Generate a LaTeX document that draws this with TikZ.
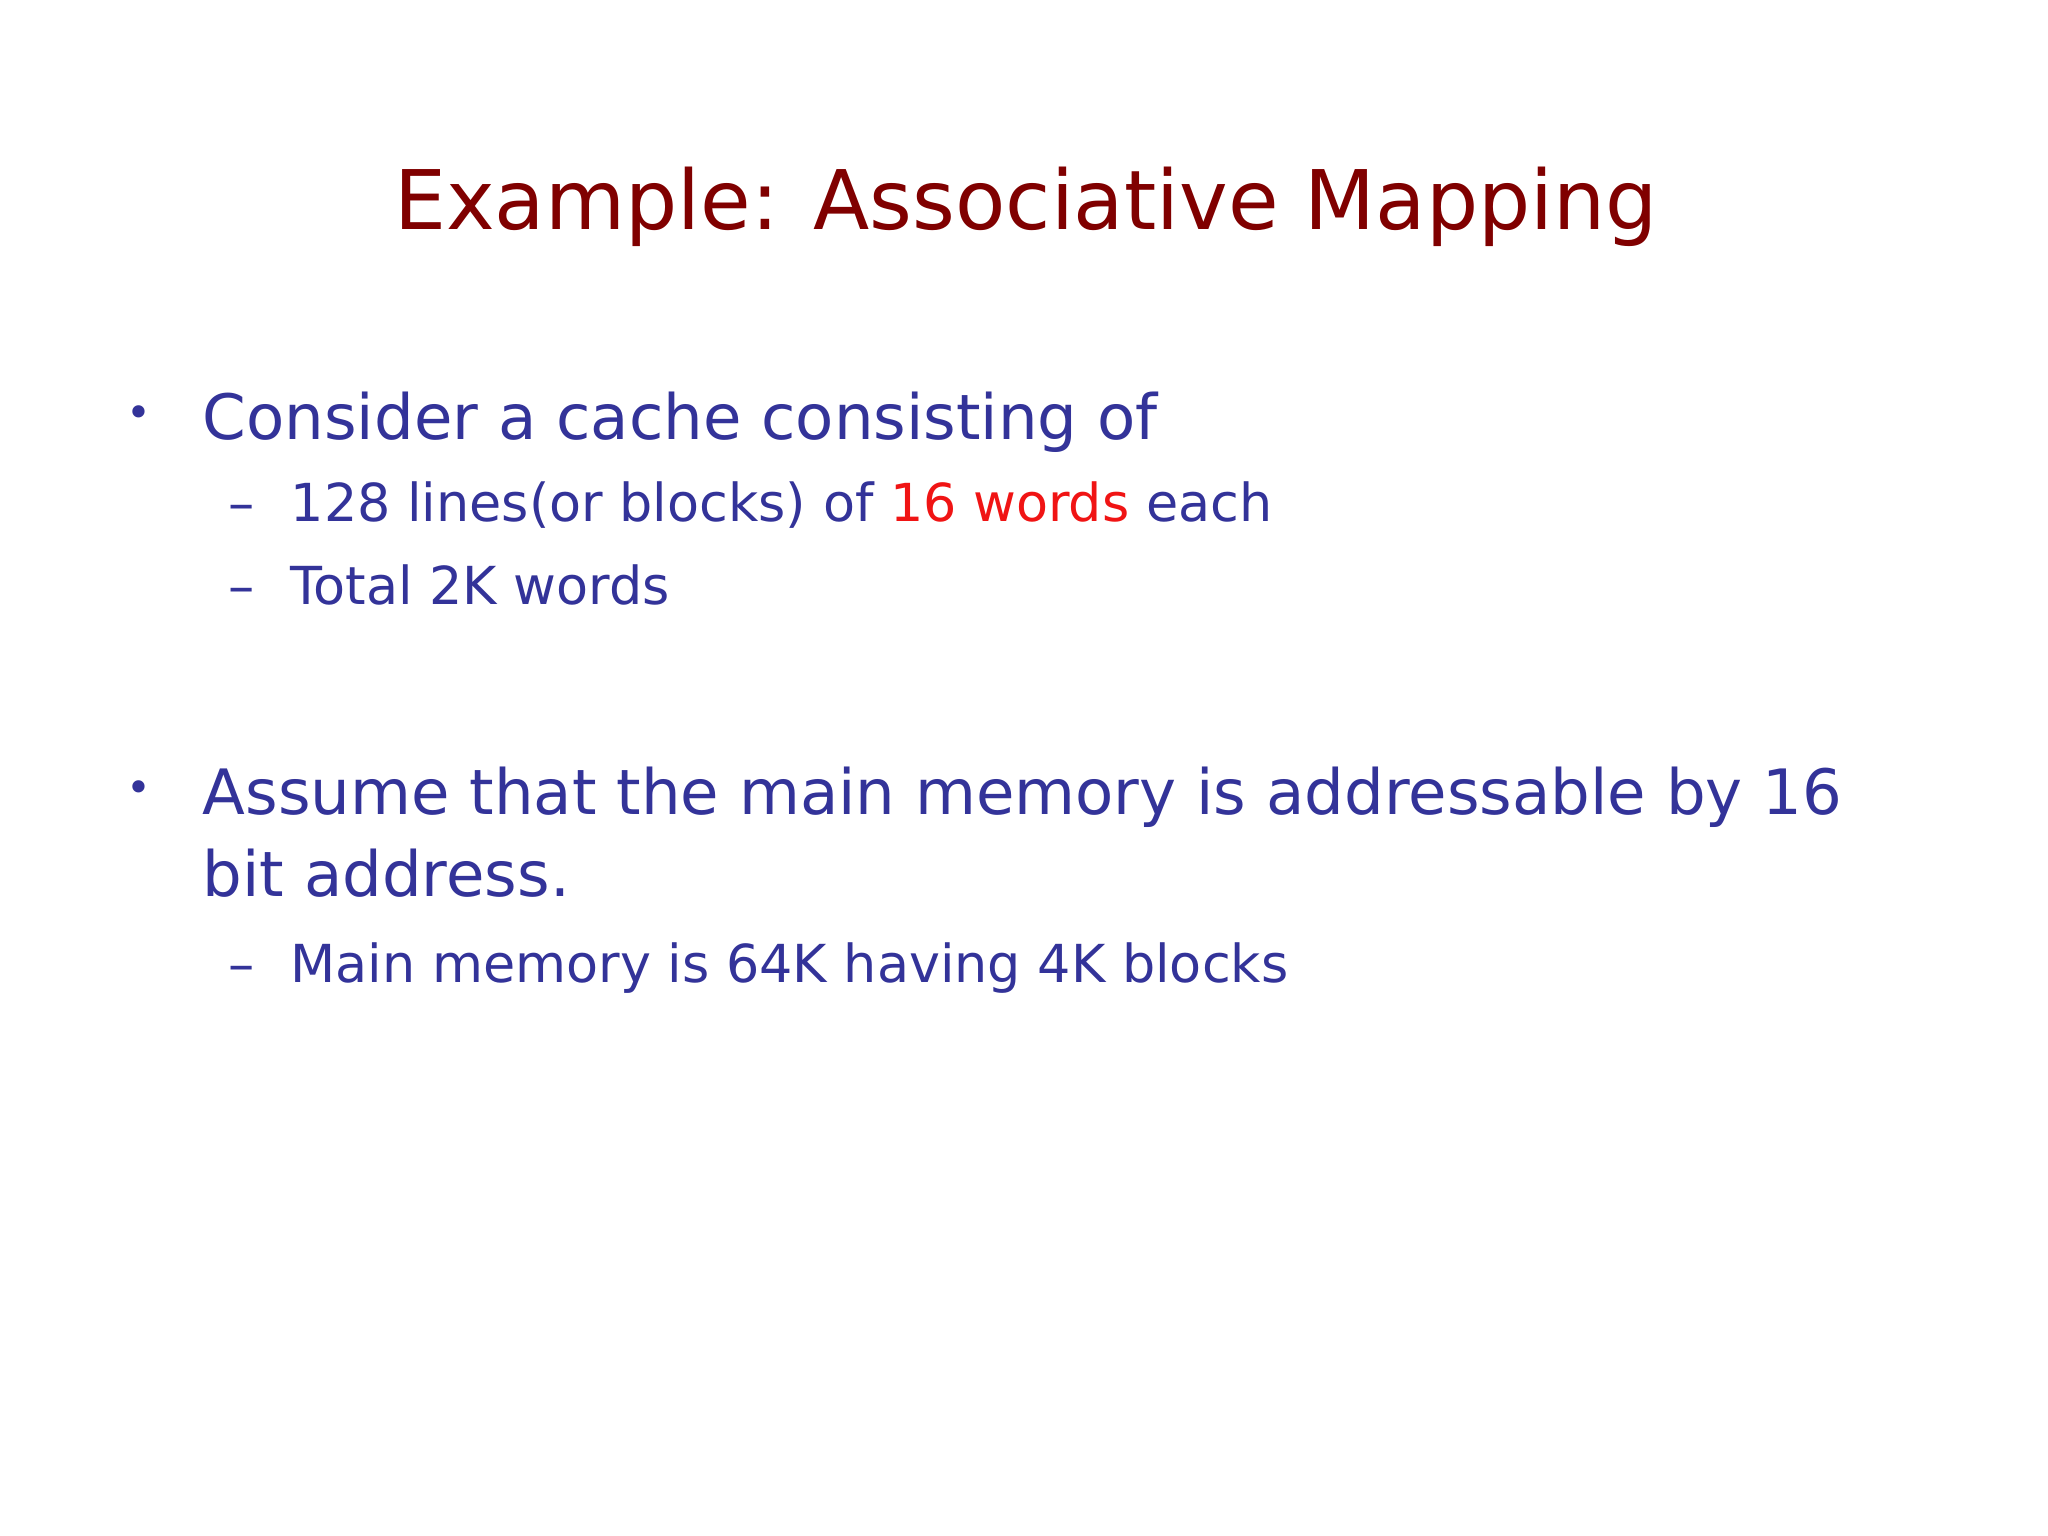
\documentclass[tikz,border=0pt]{standalone}
\usepackage{fontspec}
\setmainfont{DejaVu Sans}
\definecolor{ttl}{RGB}{128,0,0}
\definecolor{bl}{RGB}{51,51,153}
\definecolor{rd}{RGB}{240,20,20}
\begin{document}
\begin{tikzpicture}
\tikzset{txt/.style={anchor=base west,inner sep=0pt,text=bl},
 lvl1/.style={txt,font=\fontsize{17.8}{21}\selectfont},
 lvl2/.style={txt,font=\fontsize{14.9}{18}\selectfont},
 dot/.style={txt,font=\fontsize{12}{14}\selectfont}}
\useasboundingbox[fill=white] (0,0) rectangle (20.48,-15.36);
\node[anchor=base,inner sep=0pt,text=ttl,font=\fontsize{23.4}{28}\selectfont] (title) at (10.26,-2.30) {Example: Associative Mapping};
\node[dot] (b1) at (1.26,-4.28) {•};
\node[lvl1] (t1) at (2.02,-4.40) {Consider a cache consisting of};
\node[lvl2] (d1) at (2.28,-5.22) {–};
\node[lvl2] (s1) at (2.90,-5.22) {128 lines(or blocks) of \textcolor{rd}{16 words} each};
\node[lvl2] (d2) at (2.28,-6.05) {–};
\node[lvl2] (s2) at (2.90,-6.05) {Total 2K words};
\node[dot] (b2) at (1.26,-8.02) {•};
\node[lvl1] (t2) at (2.02,-8.14) {Assume that the main memory is addressable by 16};
\node[lvl1] (t3) at (2.02,-8.96) {bit address.};
\node[lvl2] (d3) at (2.28,-9.82) {–};
\node[lvl2] (s3) at (2.90,-9.82) {Main memory is 64K having 4K blocks};
\end{tikzpicture}
\end{document}
